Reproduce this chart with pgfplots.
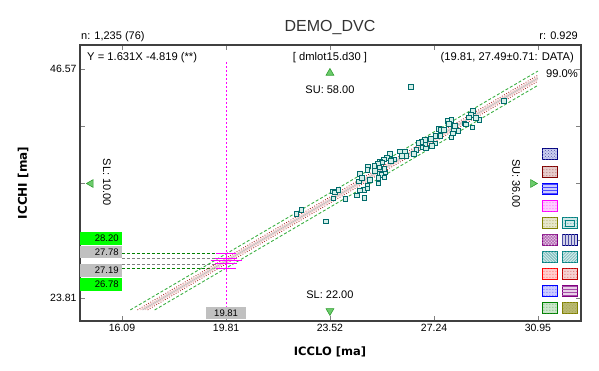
\documentclass[border=0pt]{standalone}
\usepackage{fontspec}
\setmainfont{Liberation Sans}
\newfontfamily\lblfont{DejaVu Sans}
\usepackage{pgfplots}
\pgfplotsset{compat=1.18}
\usetikzlibrary{patterns}
\usepackage{pgfplotstable}

\definecolor{axgray}{HTML}{404040}
\definecolor{tickgray}{HTML}{808080}
\definecolor{titlegray}{HTML}{333333}
\definecolor{ptedge}{HTML}{006B6B}
\definecolor{ptfill}{HTML}{D4EEE8}
\definecolor{bandgreen}{HTML}{3CB043}
\definecolor{bandred}{HTML}{A82828}
\definecolor{bandpink}{HTML}{F0C4C4}
\definecolor{centergray}{HTML}{BDBDBD}
\definecolor{hgreen}{HTML}{008000}
\definecolor{hgray}{HTML}{808080}
\definecolor{limebox}{HTML}{00FF00}
\definecolor{boxgray}{HTML}{C0C0C0}
\definecolor{trifill}{HTML}{6CCB6C}
\definecolor{triedge}{HTML}{2E9E2E}
\definecolor{mag}{HTML}{FF00FF}
\definecolor{cnavy}{HTML}{000080}
\definecolor{cmaroon}{HTML}{800000}
\definecolor{cblue}{HTML}{0000FF}
\definecolor{colive}{HTML}{808000}
\definecolor{cpurple}{HTML}{800080}
\definecolor{cteal}{HTML}{008080}
\definecolor{cred}{HTML}{FF0000}
\definecolor{cdred}{HTML}{C00000}
\definecolor{cgreen}{HTML}{008000}
\definecolor{navyfill}{HTML}{CCD0F0}

\newcommand{\fs}[1]{\fontsize{#1bp}{#1bp}\selectfont}
\newcommand{\lbox}[5]{%
  \draw[draw=#3, line width=1bp, fill=#4, postaction={pattern=#5, pattern color=#3!70}]
    (#1-7.5,-#2+5.5) rectangle (#1+7.5,-#2-5.5);}

\pgfplotstableread{
x y
26.42 44.78
29.74 43.39
28.63 42.40
28.56 42.00
28.49 41.75
28.86 41.50
28.62 40.74
27.74 41.40
27.86 41.50
27.77 41.11
27.42 40.61
27.49 40.51
28.33 41.18
28.38 41.04
28.12 40.41
27.95 40.56
27.91 40.16
27.87 39.74
27.29 39.91
27.47 39.91
27.13 39.62
26.92 39.52
26.78 39.32
26.69 39.22
26.93 39.02
27.30 39.15
26.83 38.75
26.95 38.65
26.62 38.52
26.52 38.12
26.20 38.32
26.02 38.35
26.24 37.93
25.67 38.12
25.56 37.73
25.45 37.60
25.81 37.60
25.31 37.36
25.38 37.26
25.23 37.13
24.88 36.86
24.87 36.53
25.10 36.93
25.28 36.76
24.59 36.14
25.13 36.43
25.31 36.21
25.51 36.27
25.46 36.63
25.37 36.04
25.46 35.77
25.26 35.74
24.95 35.54
25.26 35.17
24.56 35.37
24.87 34.94
24.74 34.55
24.87 34.71
24.59 34.48
24.48 33.98
24.76 33.75
23.63 34.42
23.70 34.28
23.83 34.55
23.64 33.72
24.08 33.65
22.51 32.56
22.33 32.16
23.38 31.39
24.67 35.74
25.70 37.43
27.17 38.92
27.60 40.51
28.74 41.70
27.99 40.91
26.09 37.93
}\scatterdata

\begin{document}
\begin{tikzpicture}[x=1bp,y=1bp]
\path[use as bounding box] (-80,321) rectangle (519,-49);
\begin{axis}[
  scale only axis, width=501bp, height=276bp,
  xmin=14.59, xmax=32.49, ymin=21.52, ymax=48.96,
  xtick={16.09,19.81,23.52,27.24,30.95},
  xticklabels={16.09,19.81,23.52,27.24,30.95},
  ytick={23.81,29.50,35.19,40.88,46.57},
  yticklabels={23.81,,,,46.57},
  tick align=inside,
  major tick length=5bp,
  tick style={draw=tickgray, line width=0.8bp},
  axis line style={draw=axgray, line width=1.2bp},
  ticklabel style={font=\fs{10.5}, text=black},
  /pgf/number format/assume math mode=true,
]
% horizontal reference lines
\addplot[hgreen, line width=0.9bp, dash pattern=on 3bp off 2bp] coordinates {(16.09,28.20) (19.45,28.20)};
\addplot[hgreen, line width=0.9bp, dash pattern=on 3bp off 2bp] coordinates {(16.09,26.78) (19.45,26.78)};
\addplot[hgray, line width=0.9bp, dash pattern=on 3bp off 2bp] coordinates {(16.09,27.78) (19.40,27.78)};
\addplot[hgray, line width=0.9bp, dash pattern=on 3bp off 2bp] coordinates {(16.09,27.19) (19.40,27.19)};
% regression and bands
\addplot[centergray, line width=0.9bp] coordinates {(16.823,22.62) (30.95,45.66)};
\addplot[bandpink, line width=0.7bp] coordinates {(16.744,22.62) (30.95,45.79)};
\addplot[bandpink, line width=0.7bp] coordinates {(16.903,22.62) (30.95,45.53)};
\addplot[bandred, line width=0.75bp, dash pattern=on 0.9bp off 1.6bp] coordinates {(16.640,22.62) (30.95,45.96)};
\addplot[bandred, line width=0.75bp, dash pattern=on 0.9bp off 1.6bp] coordinates {(17.007,22.62) (30.95,45.36)};
\addplot[bandgreen, line width=0.9bp, dash pattern=on 3bp off 2bp] coordinates {(16.388,22.62) (30.95,46.37)};
\addplot[bandgreen, line width=0.9bp, dash pattern=on 3bp off 2bp] coordinates {(17.259,22.62) (30.95,44.95)};
% magenta marker
\addplot[mag, line width=0.9bp, dash pattern=on 2bp off 2bp] coordinates {(19.81,47.27) (19.81,22.92)};
\addplot[mag, line width=1bp] coordinates {(19.81,28.30) (19.81,26.60)};
\addplot[mag, line width=1bp] coordinates {(19.45,28.20) (20.17,28.20)};
\addplot[mag, line width=1bp] coordinates {(19.45,26.78) (20.17,26.78)};
\addplot[mag, line width=1bp] coordinates {(19.42,27.78) (20.20,27.78)};
\addplot[mag, line width=1bp] coordinates {(19.42,27.19) (20.20,27.19)};
\addplot[mag, line width=1bp] coordinates {(19.26,27.49) (20.36,27.49)};
% scatter
\addplot[only marks, mark=square*, mark size=2.2bp, mark options={draw=ptedge, fill=ptfill, line width=0.9bp}] table[x=x,y=y]{\scatterdata};
% spec limit markers
\addplot[only marks, mark=triangle*, mark size=4.5bp, mark options={fill=trifill, draw=triedge, line width=0.6bp}] coordinates {(23.52,46.18)};
\addplot[only marks, mark=triangle*, mark size=4.5bp, mark options={fill=trifill, draw=triedge, line width=0.6bp, rotate=180}] coordinates {(23.52,22.52)};
\addplot[only marks, mark=triangle*, mark size=4.5bp, mark options={fill=trifill, draw=triedge, line width=0.6bp, rotate=90}] coordinates {(14.98,35.19)};
\addplot[only marks, mark=triangle*, mark size=4.5bp, mark options={fill=trifill, draw=triedge, line width=0.6bp, rotate=-90}] coordinates {(30.77,35.19)};
\node[font=\fs{11}, inner sep=0] at (axis cs:23.52,44.48) {SU: 58.00};
\node[font=\fs{11}, inner sep=0] at (axis cs:23.52,24.14) {SL: 22.00};
\node[font=\fs{11}, inner sep=0, rotate=-90] at (axis cs:15.55,35.29) {SL: 10.00};
\node[font=\fs{11}, inner sep=0, rotate=-90] at (axis cs:30.17,35.19) {SU: 36.00};
% value boxes
\fill[limebox] (axis cs:14.59,30.37) rectangle (axis cs:16.09,29.08);
\fill[boxgray] (axis cs:14.59,29.01) rectangle (axis cs:16.09,27.79);
\fill[boxgray] (axis cs:14.59,27.19) rectangle (axis cs:16.09,25.90);
\fill[limebox] (axis cs:14.59,25.80) rectangle (axis cs:16.09,24.51);
\node[font=\fs{9.5}, anchor=east, inner sep=0] at (axis cs:15.98,29.72) {28.20};
\node[font=\fs{9.5}, anchor=east, inner sep=0] at (axis cs:15.98,28.40) {27.78};
\node[font=\fs{9.5}, anchor=east, inner sep=0] at (axis cs:15.98,26.55) {27.19};
\node[font=\fs{9.5}, anchor=east, inner sep=0] at (axis cs:15.98,25.15) {26.78};
\fill[boxgray] (axis cs:19.09,22.92) rectangle (axis cs:20.52,21.72);
\node[font=\fs{9.5}, inner sep=0] at (axis cs:19.81,22.32) {19.81};
\end{axis}
\begin{scope}[shift={(-80,321)}]
% titles and texts
\node[font=\fs{16}, text=titlegray, inner sep=0] at (330,-28) {DEMO\_DVC};
\node[font=\fs{11}, anchor=west, inner sep=0] at (81,-37) {n: 1,235 (76)};
\node[font=\fs{11}, anchor=east, inner sep=0] at (578,-35.5) {r: 0.929};
\node[font=\fs{11.2}, anchor=west, inner sep=0] at (87,-57.5) {Y = 1.631X -4.819 (**)};
\node[font=\fs{11.2}, inner sep=0] at (330,-57.5) {[ dmlot15.d30 ]};
\node[font=\fs{11.2}, anchor=east, inner sep=0] at (574,-57.5) {(19.81, 27.49±0.71: DATA)};
\node[font=\fs{11.2}, anchor=east, inner sep=0] at (578,-74) {99.0\%};
\node[font=\lblfont\bfseries\fs{11.5}, inner sep=0] at (330,-352) {ICCLO [ma]};
\node[font=\lblfont\bfseries\fs{12}, inner sep=0, rotate=90] at (23,-183) {ICCHI [ma]};
% legend boxes
\lbox{549.5}{154.3}{cnavy}{navyfill}{crosshatch dots}
\lbox{549.5}{171.7}{cmaroon}{cmaroon!20}{dots}
\lbox{549.5}{188.7}{cblue}{cblue!20}{horizontal lines}
\lbox{549.5}{206}{mag}{mag!20}{dots}
\lbox{549.5}{223}{colive}{colive!20}{dots}
\lbox{549.5}{240}{cpurple}{cpurple!20}{crosshatch}
\lbox{549.5}{256.7}{cteal}{cteal!20}{north west lines}
\lbox{549.5}{274}{cred}{cred!20}{dots}
\lbox{549.5}{291}{cblue}{cblue!20}{dots}
\lbox{549.5}{307.7}{cgreen}{cgreen!20}{dots}
\lbox{569.5}{223}{cteal}{cteal!18}{dots}
\draw[cteal, line width=1bp] (565,-220) rectangle (574,-226);
\lbox{569.5}{240}{cnavy}{cnavy!18}{vertical lines}
\lbox{569.5}{256.7}{cteal}{cteal!18}{north east lines}
\lbox{569.5}{274}{cdred}{cdred!18}{dots}
\lbox{569.5}{291}{cpurple}{cpurple!18}{horizontal lines}
\lbox{569.5}{307.7}{colive}{colive!55}{crosshatch dots}
\end{scope}
\end{tikzpicture}
\end{document}
